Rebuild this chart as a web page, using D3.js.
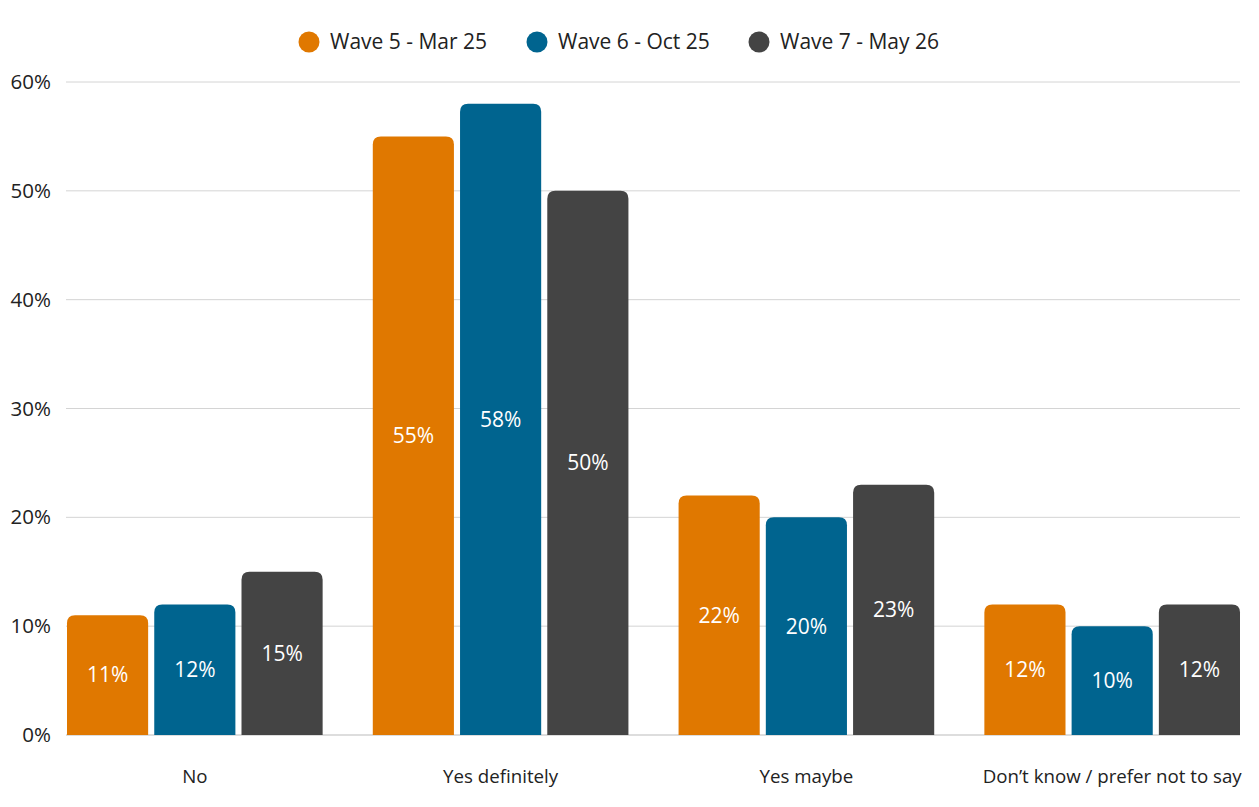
<!DOCTYPE html>
<html><head><meta charset="utf-8">
<script src="https://cdn.jsdelivr.net/npm/d3@7/dist/d3.min.js"></script>
<style>body{margin:0;background:#fff;font-family:"Open Sans",sans-serif;}</style>
</head><body><svg id="c" width="1259" height="807"></svg>
<script>
const categories = ["No","Yes definitely","Yes maybe","Don\u2019t know / prefer not to say"];
const seriesNames = ["Wave 5 - Mar 25","Wave 6 - Oct 25","Wave 7 - May 26"];
const wave5 = [11,55,22,12];
const wave6 = [12,58,20,10];
const wave7 = [15,50,23,12];
const yTicks = [0,10,20,30,40,50,60];
const colors = ["#E07800","#00648F","#444444"];

const series = [wave5,wave6,wave7];
const svg = d3.select("#c");
const x0 = d3.scaleBand().domain(categories).range([67,1240]).paddingInner(0.164).paddingOuter(0);
const x1 = d3.scaleBand().domain(d3.range(3)).range([0,x0.bandwidth()]).paddingInner(0.07).paddingOuter(0);
const y = d3.scaleLinear().domain([0,60]).range([735,82]);

// gridlines
svg.append("g").selectAll("line").data(yTicks).join("line")
  .attr("x1",66).attr("x2",1240).attr("y1",d=>y(d)).attr("y2",d=>y(d))
  .attr("stroke",d=>d===0?"#bbbbbb":"#d4d4d4").attr("stroke-width",1);

// y axis labels
const yAxis = d3.axisLeft(y).tickValues(yTicks).tickFormat(d=>d+"%").tickSize(0).tickPadding(0);
const ya = svg.append("g").attr("transform","translate(51,0)").call(yAxis);
ya.select(".domain").remove();
ya.selectAll("text").attr("font-family","Open Sans").attr("font-size",20.5).attr("fill","#222");

// x axis labels
const xAxis = d3.axisBottom(x0).tickSize(0).tickPadding(0);
const xa = svg.append("g").attr("transform","translate(0,770)").call(xAxis);
xa.select(".domain").remove();
xa.selectAll("text").attr("font-family","Open Sans").attr("font-size",18.7).attr("fill","#222").attr("dy","0.71em");

// bars
const r = 8;
function topRounded(x,yt,w,h){
  const rr = Math.min(r,h,w/2);
  return `M${x},${yt+h}V${yt+rr}Q${x},${yt} ${x+rr},${yt}H${x+w-rr}Q${x+w},${yt} ${x+w},${yt+rr}V${yt+h}Z`;
}
const data = [];
categories.forEach((c,i)=>series.forEach((s,j)=>data.push({c,j,v:s[i]})));
const g = svg.append("g");
g.selectAll("path").data(data).join("path")
  .attr("d",d=>{const bx=x0(d.c)+x1(d.j);const yt=y(d.v);return topRounded(bx,yt,x1.bandwidth(),y(0)-yt);})
  .attr("fill",d=>colors[d.j]);
g.selectAll("text").data(data).join("text")
  .attr("x",d=>x0(d.c)+x1(d.j)+x1.bandwidth()/2)
  .attr("y",d=>(y(d.v)+y(0))/2)
  .attr("dy","0.35em").attr("text-anchor","middle")
  .attr("font-family","Open Sans").attr("font-size",21).attr("fill","#fff")
  .text(d=>d.v+"%");

// legend
const legX = [309,537,759];
const lg = svg.append("g").selectAll("g").data(seriesNames).join("g")
  .attr("transform",(d,i)=>`translate(${legX[i]},42)`);
lg.append("circle").attr("r",10.5).attr("fill",(d,i)=>colors[i]);
lg.append("text").attr("x",21).attr("dy","0.35em").attr("font-family","Open Sans")
  .attr("font-size",21).attr("fill","#222").text(d=>d);
</script></body></html>
